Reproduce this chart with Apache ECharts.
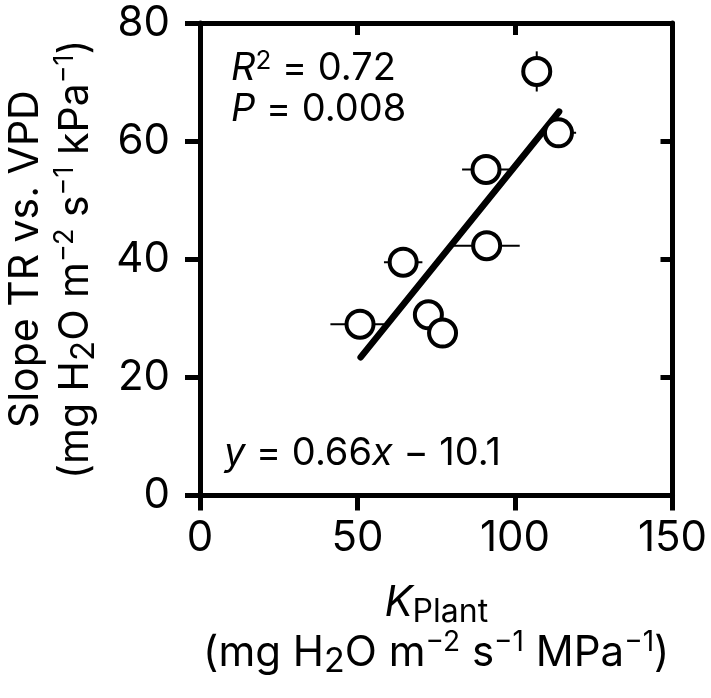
<!DOCTYPE html>
<html><head><meta charset="utf-8">
<script src="https://cdn.jsdelivr.net/npm/echarts@6/dist/echarts.min.js"></script>
<style>html,body{margin:0;padding:0;background:#fff}#c{width:711px;height:698px}</style>
</head><body><div id="c"></div>
<script>
// ---- data ----
const kPlant    = [106.9, 113.8, 90.8, 91.0, 64.5, 72.5, 77.0, 50.8];
const slopeTR   = [71.8, 61.4, 55.2, 42.3, 39.5, 30.6, 27.5, 29.0];
const kPlantErr = [0, 5.6, 7.6, 10.5, 6.1, 0, 0, 9.4];
const slopeErr  = [3.4, 0, 0, 0, 0, 0, 0, 0];
const fitX = [51, 114];
const fitY = [23.4, 65.0];
const xTicks = [0, 50, 100, 150];
const yTicks = [0, 20, 40, 60, 80];

const F = 'Inter';
const BLACK = '#000';
const AX_W = 5;

function richSet(main, sub, sup) {
  return {
    n:  {fontFamily: F, fontSize: main, lineHeight: 50, color: BLACK},
    k:  {fontFamily: F, fontSize: 42, fontStyle: 'italic', lineHeight: 50, color: BLACK},
    ks: {fontFamily: F, fontSize: 32, lineHeight: 20, verticalAlign: 'bottom', color: BLACK},
    sb: {fontFamily: F, fontSize: sub, lineHeight: 10, verticalAlign: 'bottom', color: BLACK},
    sp: {fontFamily: F, fontSize: sup, lineHeight: 42, verticalAlign: 'top', color: BLACK}
  };
}

const xName = '{k|K}{ks|Plant}\n{n|(mg H}{sb|2}{n|O m}{sp|\u22122}{n| s}{sp|\u22121}{n| MPa}{sp|\u22121}{n|)}';
const yName = '{n|Slope TR vs. VPD}\n{n|(mg H}{sb|2}{n|O m}{sp|\u22122}{n| s}{sp|\u22121}{n| kPa}{sp|\u22121}{n|)}';

const xStep = xTicks[1] - xTicks[0];
const yStep = yTicks[1] - yTicks[0];

function baseAxis(min, max, step) {
  return {
    type: 'value', min: min, max: max, interval: step,
    axisLine: {show: true, onZero: false, lineStyle: {color: BLACK, width: AX_W}},
    splitLine: {show: false}
  };
}

const chart = echarts.init(document.getElementById('c'), null, {renderer: 'canvas'});

const annRich = {
  n:  {fontFamily: F, fontSize: 38, lineHeight: 41, color: BLACK},
  i:  {fontFamily: F, fontSize: 38, fontStyle: 'italic', lineHeight: 41, color: BLACK},
  sp: {fontFamily: F, fontSize: 26, lineHeight: 32, verticalAlign: 'top', color: BLACK}
};

chart.setOption({
  animation: false,
  backgroundColor: '#fff',
  grid: {left: 200, top: 23, right: 38.5, bottom: 202.5, containLabel: false, outerBoundsMode: 'none'},
  xAxis: [
    Object.assign(baseAxis(xTicks[0], xTicks[xTicks.length - 1], xStep), {
      position: 'bottom',
      axisTick: {show: true, inside: false, length: 15, lineStyle: {color: BLACK, width: AX_W}},
      axisLabel: {show: true, color: BLACK, fontFamily: F, fontSize: 42, margin: 22},
      name: xName, nameLocation: 'middle', nameGap: 83,
      nameTextStyle: {rich: richSet(42, 34, 28)}
    }),
    Object.assign(baseAxis(xTicks[0], xTicks[xTicks.length - 1], xStep), {
      position: 'top',
      axisTick: {show: true, inside: true, length: 12, lineStyle: {color: BLACK, width: AX_W}},
      axisLabel: {show: false}
    })
  ],
  yAxis: [
    Object.assign(baseAxis(yTicks[0], yTicks[yTicks.length - 1], yStep), {
      position: 'left',
      axisTick: {show: true, inside: false, length: 15, lineStyle: {color: BLACK, width: AX_W}},
      axisLabel: {show: true, color: BLACK, fontFamily: F, fontSize: 42, margin: 30},
      name: yName, nameLocation: 'middle', nameGap: 99, nameRotate: 90,
      nameTextStyle: {rich: richSet(41, 33, 27)}
    }),
    Object.assign(baseAxis(yTicks[0], yTicks[yTicks.length - 1], yStep), {
      position: 'right',
      axisTick: {show: true, inside: true, length: 12, lineStyle: {color: BLACK, width: AX_W}},
      axisLabel: {show: false}
    })
  ],
  graphic: [
    {type: 'text', left: 231, top: 48, z: 10,
     style: {text: '{i|R}{sp|2}{n| = 0.72}\n{i|P}{n| = 0.008}', rich: annRich}},
    {type: 'text', left: 224, top: 435, z: 10,
     style: {text: '{i|y}{n| = 0.66}{i|x}{n| \u2212 10.1}', rich: annRich}}
  ],
  series: [
    {
      type: 'line', xAxisIndex: 0, yAxisIndex: 0, z: 1,
      data: fitX.map((x, i) => [x, fitY[i]]),
      symbol: 'none', silent: true,
      lineStyle: {color: BLACK, width: 6.5, cap: 'round'}
    },
    {
      type: 'custom', xAxisIndex: 0, yAxisIndex: 0, z: 2, silent: true,
      data: kPlant.map((x, i) => [x, slopeTR[i], kPlantErr[i], slopeErr[i]]),
      encode: {x: 0, y: 1},
      renderItem: function (params, api) {
        const x = api.value(0), y = api.value(1), ex = api.value(2), ey = api.value(3);
        const children = [];
        const st = {stroke: BLACK, lineWidth: 2};
        if (ex > 0) {
          const a = api.coord([x - ex, y]), b = api.coord([x + ex, y]);
          children.push({type: 'line', shape: {x1: a[0], y1: a[1], x2: b[0], y2: b[1]}, style: st});
        }
        if (ey > 0) {
          const a = api.coord([x, y - ey]), b = api.coord([x, y + ey]);
          children.push({type: 'line', shape: {x1: a[0], y1: a[1], x2: b[0], y2: b[1]}, style: st});
        }
        return {type: 'group', children: children};
      }
    },
    {
      type: 'scatter', xAxisIndex: 0, yAxisIndex: 0, z: 3,
      data: kPlant.map((x, i) => [x, slopeTR[i]]),
      symbol: 'circle', symbolSize: 27,
      itemStyle: {color: '#fff', borderColor: BLACK, borderWidth: 4, opacity: 1}
    }
  ]
});
</script>
</body></html>
